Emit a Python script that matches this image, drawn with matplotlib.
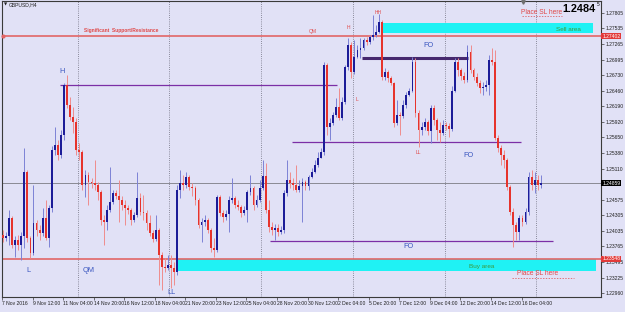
import numpy as np
import matplotlib
matplotlib.use('Agg')
import matplotlib.pyplot as plt
import matplotlib.transforms as mtransforms
from matplotlib.patches import Rectangle

plt.rcParams['font.family'] = ['Liberation Sans', 'DejaVu Sans']

# GBPUSD H4 - open of first bar, then close / high / low of each bar
first_open = 1.2396
close = [1.2391, 1.2394, 1.2425, 1.2379, 1.2387, 1.2379, 1.2394, 1.2505, 1.2391, 1.2365,
         1.2417, 1.2405, 1.2399, 1.2425, 1.2391, 1.2443, 1.2543, 1.2551, 1.2534, 1.2569,
         1.2656, 1.2621, 1.2600, 1.2591, 1.2543, 1.2539, 1.2482, 1.2500, 1.2488, 1.2486,
         1.2482, 1.2470, 1.2422, 1.2418, 1.2439, 1.2453, 1.2469, 1.2463, 1.2456, 1.2448,
         1.2443, 1.2439, 1.2422, 1.2431, 1.2460, 1.2436, 1.2434, 1.2417, 1.2399, 1.2389,
         1.2405, 1.2361, 1.2341, 1.2339, 1.2344, 1.2339, 1.2332, 1.2474, 1.2486, 1.2482,
         1.2496, 1.2479, 1.2477, 1.2456, 1.2413, 1.2418, 1.2422, 1.2405, 1.2374, 1.2370,
         1.2462, 1.2434, 1.2427, 1.2432, 1.2456, 1.2460, 1.2448, 1.2444, 1.2434, 1.2439,
         1.2470, 1.2477, 1.2448, 1.2456, 1.2477, 1.2498, 1.2439, 1.2410, 1.2405, 1.2408,
         1.2401, 1.2405, 1.2469, 1.2491, 1.2486, 1.2482, 1.2474, 1.2481, 1.2488, 1.2481,
         1.2496, 1.2505, 1.2517, 1.2529, 1.2539, 1.2690, 1.2583, 1.2590, 1.2604, 1.2617,
         1.2598, 1.2626, 1.2687, 1.2725, 1.2678, 1.2704, 1.2716, 1.2720, 1.2733, 1.2730,
         1.2738, 1.2742, 1.2747, 1.2764, 1.2669, 1.2678, 1.2667, 1.2659, 1.2590, 1.2603,
         1.2602, 1.2621, 1.2638, 1.2646, 1.2695, 1.2607, 1.2577, 1.2583, 1.2591, 1.2576,
         1.2615, 1.2595, 1.2577, 1.2572, 1.2586, 1.2584, 1.2579, 1.2646, 1.2695, 1.2681,
         1.2671, 1.2664, 1.2712, 1.2681, 1.2669, 1.2659, 1.2650, 1.2652, 1.2655, 1.2698,
         1.2695, 1.2564, 1.2546, 1.2534, 1.2526, 1.2479, 1.2436, 1.2413, 1.2401, 1.2425,
         1.2418, 1.2436, 1.2496, 1.2482, 1.2491, 1.2482, 1.2486]
high = [1.2405, 1.2401, 1.2439, 1.2429, 1.2394, 1.2396, 1.2401, 1.2546, 1.2508, 1.2394,
        1.2482, 1.2422, 1.2413, 1.2443, 1.2456, 1.2448, 1.2550, 1.2583, 1.2560, 1.2577,
        1.2659, 1.2673, 1.2635, 1.2617, 1.2598, 1.2555, 1.2543, 1.2508, 1.2505, 1.2494,
        1.2526, 1.2488, 1.2474, 1.2431, 1.2448, 1.2513, 1.2474, 1.2474, 1.2491, 1.2463,
        1.2456, 1.2448, 1.2443, 1.2436, 1.2505, 1.2469, 1.2465, 1.2439, 1.2431, 1.2405,
        1.2431, 1.2408, 1.2367, 1.2356, 1.2361, 1.2361, 1.2349, 1.2482, 1.2508, 1.2500,
        1.2505, 1.2500, 1.2486, 1.2481, 1.2460, 1.2425, 1.2431, 1.2425, 1.2408, 1.2391,
        1.2465, 1.2465, 1.2439, 1.2439, 1.2463, 1.2494, 1.2463, 1.2456, 1.2448, 1.2446,
        1.2474, 1.2500, 1.2481, 1.2465, 1.2491, 1.2526, 1.2520, 1.2456, 1.2418, 1.2415,
        1.2415, 1.2412, 1.2474, 1.2526, 1.2505, 1.2494, 1.2517, 1.2491, 1.2494, 1.2491,
        1.2500, 1.2512, 1.2526, 1.2539, 1.2546, 1.2695, 1.2694, 1.2598, 1.2609, 1.2633,
        1.2650, 1.2635, 1.2690, 1.2737, 1.2730, 1.2733, 1.2725, 1.2737, 1.2737, 1.2738,
        1.2742, 1.2776, 1.2759, 1.2778, 1.2768, 1.2685, 1.2681, 1.2671, 1.2660, 1.2629,
        1.2608, 1.2629, 1.2643, 1.2650, 1.2704, 1.2702, 1.2612, 1.2591, 1.2598, 1.2595,
        1.2621, 1.2621, 1.2598, 1.2591, 1.2595, 1.2591, 1.2589, 1.2653, 1.2702, 1.2702,
        1.2685, 1.2678, 1.2724, 1.2724, 1.2685, 1.2676, 1.2664, 1.2660, 1.2664, 1.2707,
        1.2719, 1.2716, 1.2569, 1.2551, 1.2543, 1.2529, 1.2482, 1.2443, 1.2418, 1.2431,
        1.2431, 1.2443, 1.2505, 1.2508, 1.2505, 1.2500, 1.2500]
low = [1.2384, 1.2386, 1.2379, 1.2374, 1.2358, 1.2370, 1.2353, 1.2374, 1.2384, 1.2356,
       1.2361, 1.2394, 1.2387, 1.2394, 1.2387, 1.2375, 1.2436, 1.2534, 1.2526, 1.2529,
       1.2560, 1.2616, 1.2595, 1.2572, 1.2534, 1.2526, 1.2474, 1.2462, 1.2448, 1.2477,
       1.2474, 1.2456, 1.2413, 1.2379, 1.2405, 1.2436, 1.2450, 1.2458, 1.2418, 1.2439,
       1.2413, 1.2432, 1.2413, 1.2418, 1.2427, 1.2431, 1.2422, 1.2405, 1.2394, 1.2384,
       1.2386, 1.2310, 1.2301, 1.2332, 1.2335, 1.2304, 1.2310, 1.2327, 1.2460, 1.2474,
       1.2477, 1.2474, 1.2463, 1.2448, 1.2408, 1.2384, 1.2412, 1.2399, 1.2367, 1.2358,
       1.2367, 1.2429, 1.2418, 1.2422, 1.2401, 1.2451, 1.2443, 1.2439, 1.2427, 1.2431,
       1.2418, 1.2465, 1.2439, 1.2444, 1.2453, 1.2474, 1.2434, 1.2401, 1.2396, 1.2387,
       1.2394, 1.2398, 1.2399, 1.2463, 1.2477, 1.2474, 1.2470, 1.2470, 1.2418, 1.2474,
       1.2474, 1.2494, 1.2503, 1.2513, 1.2531, 1.2534, 1.2569, 1.2560, 1.2586, 1.2600,
       1.2595, 1.2595, 1.2623, 1.2682, 1.2668, 1.2675, 1.2702, 1.2702, 1.2716, 1.2725,
       1.2726, 1.2733, 1.2738, 1.2745, 1.2664, 1.2664, 1.2660, 1.2655, 1.2583, 1.2586,
       1.2569, 1.2598, 1.2615, 1.2636, 1.2643, 1.2600, 1.2548, 1.2569, 1.2577, 1.2569,
       1.2555, 1.2586, 1.2560, 1.2557, 1.2569, 1.2577, 1.2565, 1.2576, 1.2643, 1.2671,
       1.2664, 1.2659, 1.2660, 1.2676, 1.2664, 1.2653, 1.2641, 1.2638, 1.2646, 1.2638,
       1.2690, 1.2560, 1.2539, 1.2517, 1.2512, 1.2474, 1.2431, 1.2375, 1.2387, 1.2387,
       1.2412, 1.2415, 1.2431, 1.2474, 1.2469, 1.2474, 1.2477]

x_labels = ['7 Nov 2016', '9 Nov 12:00', '11 Nov 04:00', '14 Nov 20:00', '16 Nov 12:00',
            '18 Nov 04:00', '21 Nov 20:00', '23 Nov 12:00', '25 Nov 04:00', '28 Nov 20:00',
            '30 Nov 12:00', '2 Dec 04:00', '5 Dec 20:00', '7 Dec 12:00', '9 Dec 04:00',
            '12 Dec 20:00', '14 Dec 12:00', '16 Dec 04:00']
y_ticks = [1.27805, 1.27535, 1.27265, 1.26995, 1.26730, 1.26460, 1.26190, 1.25920, 1.25650,
           1.25380, 1.25110, 1.24575, 1.24305, 1.24035, 1.23765, 1.23495, 1.23225, 1.22960]

sr_top = 1.27402
sr_bottom = 1.23548
bid = 1.24859

bg = '#e1e1f6'
bull, bear = '#1c1c98', '#e6332c'
bull_wick, bear_wick = '#7c82d6', '#ef8c8c'
purple = '#7b2fa6'
red_line = '#e26666'
blue_txt = '#3a56c0'
red_txt = '#e04848'
green_txt = '#3c9a3c'
cyan = '#1ff2f4'
tick_fs = 3.6

close = np.array(close)
opn = np.r_[first_open, close[:-1]]
high = np.maximum(np.array(high), np.maximum(opn, close))
low = np.minimum(np.array(low), np.minimum(opn, close))
x = np.arange(len(close))
up = close >= opn

fig = plt.figure(figsize=(6.25, 3.12), dpi=100, facecolor=bg)
ax = fig.add_axes([2 / 625, 15 / 312, 599 / 625, 296 / 312])
ax.set_facecolor(bg)
ax.set_xlim(-0.3, 195.7)
ax.set_ylim(1.22891, 1.28007)

# vertical grid
for gx in np.arange(24.5, 190, 30):
    ax.axvline(gx, color='#6e6e7e', lw=0.6, ls=(0, (1, 1.6)), zorder=1)

# zones
ax.add_patch(Rectangle((124.4, 1.2745), 68.7, 0.0017, color=cyan, lw=0, zorder=1.5))
ax.add_patch(Rectangle((57.3, 1.2334), 136.8, 0.0021, color=cyan, lw=0, zorder=1.5))

# horizontal levels
ax.axhline(sr_top, color=red_line, lw=1.2, zorder=2)
ax.axhline(sr_bottom, color=red_line, lw=1.2, zorder=2)
ax.axhline(bid, color='#7c7c84', lw=0.6, zorder=2)
ax.hlines(1.2656, 18.7, 109.3, color=purple, lw=0.9, zorder=2)
ax.hlines(1.2557, 94.6, 169.5, color=purple, lw=0.9, zorder=2)
ax.hlines(1.2386, 87.4, 180.0, color=purple, lw=0.9, zorder=2)
ax.hlines(1.2702, 117.6, 152.2, color='#46286e', lw=2.2, zorder=2)
ax.plot([-0.1], [sr_top], 'o', ms=2, color=red_line, clip_on=False, zorder=3)

# candles
ax.vlines(x, low, high, colors=np.where(up, bull_wick, bear_wick), lw=0.7, zorder=3)
ax.bar(x, np.maximum(np.abs(close - opn), 0.00004), bottom=np.minimum(opn, close),
       width=0.6, color=np.where(up, bull, bear), lw=0, zorder=4)

# annotations
ax.text(38.6, 1.2750, 'Significant  Support/Resistance', color=red_txt, fontsize=3.5,
        fontweight='bold', ha='center', va='center')
for tx, ty, s in [(101.5, 1.2748, 'QM'), (112.9, 1.2755, 'H'), (122.7, 1.2780, 'HH'),
                  (115.9, 1.2631, 'L'), (135.8, 1.2538, 'LL')]:
    ax.text(tx, ty, s, color=red_txt, fontsize=3.6, ha='center', va='center')
for tx, ty, s in [(19.3, 1.2679, 'H'), (8.5, 1.2335, 'L'), (28.2, 1.2335, 'QM'),
                  (55.0, 1.2297, 'LL'), (139.1, 1.2723, 'FO'), (152.2, 1.2534, 'FO'),
                  (132.6, 1.2377, 'FO')]:
    ax.text(tx, ty, s, color=blue_txt, fontsize=5.3, ha='center', va='center')
ax.text(184.9, 1.2752, 'Sell area', color=green_txt, fontsize=4.6, ha='center', va='center')
ax.text(156.5, 1.2342, 'Buy area', color=green_txt, fontsize=4.6, ha='center', va='center')
ax.text(176.4, 1.2781, 'Place SL here', color=red_txt, fontsize=4.8, ha='center', va='center')
ax.plot([169.8, 183.0], [1.27745, 1.27745], color=red_txt, lw=0.5, ls=(0, (2, 2)))
ax.text(175.1, 1.2329, 'Place SL here', color=red_txt, fontsize=4.8, ha='center', va='center')
ax.plot([166.5, 187.0], [1.23225, 1.23225], color=red_txt, lw=0.5, ls=(0, (2, 2)))
ax.plot([170.2], [1.2799], 'v', ms=2.5, color='#707070', clip_on=False, zorder=5)

# axes styling
for sp in ax.spines.values():
    sp.set_color('#3a3a3a')
    sp.set_linewidth(0.8)
ax.yaxis.tick_right()
ax.set_yticks(y_ticks, ['%.5f' % v for v in y_ticks])
ax.set_xticks(np.arange(len(x_labels)) * 10 - 0.3, x_labels)
for lbl in ax.get_xticklabels():
    lbl.set_horizontalalignment('left')
ax.tick_params(axis='both', length=2, width=0.5, colors='#3a3a3a', labelsize=tick_fs,
               labelcolor='#202020', pad=1.0)

# price boxes on the scale
trans = mtransforms.blended_transform_factory(ax.transAxes, ax.transData)
for price, fc in [(sr_top, '#e23a3a'), (sr_bottom, '#e23a3a'), (bid, '#000000')]:
    ax.text(1.002, price, '%.5f' % price, transform=trans, color='white', fontsize=tick_fs,
            ha='left', va='center', clip_on=False, zorder=6,
            bbox=dict(facecolor=fc, edgecolor='none', pad=0.5))

fig.text(4 / 625, 1 - 5 / 312, '\u25bc', fontsize=3, color='#202020', va='center',
         family=['DejaVu Sans'])
fig.text(9 / 625, 1 - 5 / 312, 'GBPUSD,H4', fontsize=3.6, color='#202020', va='center')
fig.text(596 / 625, 1 - 9 / 312, '1.2484', fontsize=7.8, fontweight='bold', color='black',
         ha='right', va='center')
fig.text(597 / 625, 1 - 5 / 312, '5', fontsize=3.5, color='black', ha='left', va='center')

fig.savefig('out.png', dpi=100, facecolor=bg)
